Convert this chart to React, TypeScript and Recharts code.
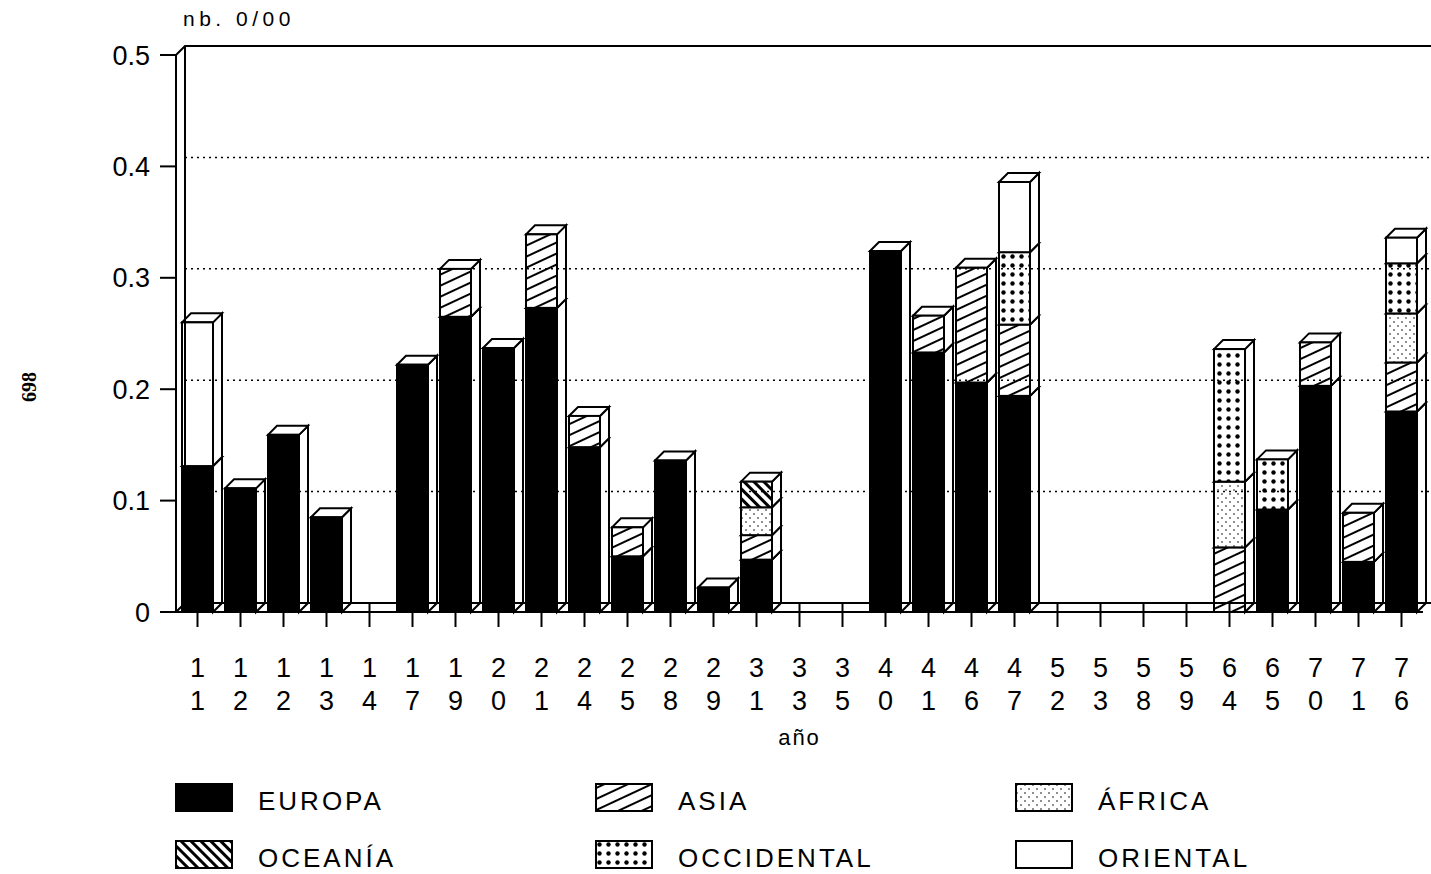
import { BarChart, Bar, XAxis, YAxis, CartesianGrid, ReferenceLine } from "recharts"

const labels = ["11", "12", "12", "13", "14", "17", "19", "20", "21", "24", "25", "28", "29", "31", "33", "35", "40", "41", "46", "47", "52", "53", "58", "59", "64", "65", "70", "71", "76"]

const europa = [0.131, 0.111, 0.159, 0.085, 0, 0.222, 0.265, 0.237, 0.273, 0.148, 0.05, 0.136, 0.022, 0.047, 0, 0, 0.324, 0.233, 0.206, 0.194, 0, 0, 0, 0, 0, 0.092, 0.203, 0.045, 0.18]
const asia = [0, 0, 0, 0, 0, 0, 0.043, 0, 0.066, 0.028, 0.026, 0, 0, 0.022, 0, 0, 0, 0.033, 0.103, 0.064, 0, 0, 0, 0, 0.058, 0, 0.039, 0.044, 0.044]
const africa = [0, 0, 0, 0, 0, 0, 0, 0, 0, 0, 0, 0, 0, 0.025, 0, 0, 0, 0, 0, 0, 0, 0, 0, 0, 0.059, 0, 0, 0, 0.044]
const oceania = [0, 0, 0, 0, 0, 0, 0, 0, 0, 0, 0, 0, 0, 0.023, 0, 0, 0, 0, 0, 0, 0, 0, 0, 0, 0, 0, 0, 0, 0]
const occidental = [0, 0, 0, 0, 0, 0, 0, 0, 0, 0, 0, 0, 0, 0, 0, 0, 0, 0, 0, 0.065, 0, 0, 0, 0, 0.119, 0.045, 0, 0, 0.045]
const oriental = [0.129, 0, 0, 0, 0, 0, 0, 0, 0, 0, 0, 0, 0, 0, 0, 0, 0, 0, 0, 0.063, 0, 0, 0, 0, 0, 0, 0, 0, 0.023]

const yTicks = [0, 0.1, 0.2, 0.3, 0.4, 0.5]
const gridTicks = [0.1, 0.2, 0.3, 0.4]

const series = [
    { key: "europa", name: "EUROPA", fill: "#000" },
    { key: "asia", name: "ASIA", fill: "url(#pat-asia)" },
    { key: "africa", name: "ÁFRICA", fill: "url(#pat-africa)" },
    { key: "oceania", name: "OCEANÍA", fill: "url(#pat-oceania)" },
    { key: "occidental", name: "OCCIDENTAL", fill: "url(#pat-occ)" },
    { key: "oriental", name: "ORIENTAL", fill: "#fff" },
]

const data = labels.map((label, i) => ({
    label,
    europa: europa[i],
    asia: asia[i],
    africa: africa[i],
    oceania: oceania[i],
    occidental: occidental[i],
    oriental: oriental[i],
}))

const FONT = "'Liberation Sans', Arial, sans-serif"
const D = 9 // depth of the 3d effect
const PLOT_H = 557

// back-wall grid: same ticks, pushed D px up and right
function BackGrid({ y1, x1 }: any) {
    return (
        <line
            x1={x1 + D}
            y1={y1 - D}
            x2={1432}
            y2={y1 - D}
            stroke="#000"
            strokeWidth={1.5}
            strokeDasharray="2 4"
        />
    )
}

function Bar3D(props: any) {
    const { x, y, width, height, fill } = props
    if (!height || height <= 0.5) return null
    const r = x + width
    return (
        <g>
            <polygon
                points={`${r},${y} ${r + D},${y - D} ${r + D},${y + height - D} ${r},${y + height}`}
                fill="#fff"
                stroke="#000"
                strokeWidth={2}
            />
            <polygon
                points={`${x},${y} ${x + D},${y - D} ${r + D},${y - D} ${r},${y}`}
                fill="#fff"
                stroke="#000"
                strokeWidth={2}
            />
            <rect x={x} y={y} width={width} height={height} fill={fill} stroke="#000" strokeWidth={2} />
        </g>
    )
}

function XTick({ x, y, payload }: any) {
    const [a, b] = String(payload.value).split("")
    return (
        <g>
            <line x1={x} y1={y - D} x2={x} y2={y + 15} stroke="#000" strokeWidth={2} />
            <text x={x} y={y + 65} textAnchor="middle" fontSize={27} fontFamily={FONT} fill="#000">
                {a}
            </text>
            <text x={x} y={y + 98} textAnchor="middle" fontSize={27} fontFamily={FONT} fill="#000">
                {b}
            </text>
        </g>
    )
}

function TopFrame({ x1, y1 }: any) {
    return (
        <g fill="none" stroke="#000" strokeWidth={2}>
            <polyline points={`${x1},${y1} ${x1 + D},${y1 - D} 1432,${y1 - D}`} />
            <line x1={x1 + D} y1={y1 - D} x2={x1 + D} y2={y1 - D + PLOT_H} />
        </g>
    )
}

function Floor({ x1, y1, x2 }: any) {
    return (
        <g fill="none" stroke="#000" strokeWidth={2}>
            <polyline points={`${x1},${y1} ${x1 + D},${y1 - D} ${x2 + D},${y1 - D}`} />
        </g>
    )
}

function Patterns() {
    return (
        <svg width={0} height={0} style={{ position: "absolute" }}>
            <defs>
                <pattern id="pat-asia" width={10} height={10} patternUnits="userSpaceOnUse" patternTransform="rotate(-25)">
                    <rect width={10} height={10} fill="#fff" />
                    <line x1={0} y1={5} x2={10} y2={5} stroke="#000" strokeWidth={2} />
                </pattern>
                <pattern id="pat-oceania" width={7} height={7} patternUnits="userSpaceOnUse" patternTransform="rotate(45)">
                    <rect width={7} height={7} fill="#fff" />
                    <line x1={0} y1={3.5} x2={7} y2={3.5} stroke="#000" strokeWidth={3} />
                </pattern>
                <pattern id="pat-africa" width={8} height={8} patternUnits="userSpaceOnUse">
                    <rect width={8} height={8} fill="#fff" />
                    <circle cx={2} cy={2} r={0.8} fill="#000" />
                    <circle cx={6} cy={6} r={0.8} fill="#000" />
                </pattern>
                <pattern id="pat-occ" width={9} height={9} patternUnits="userSpaceOnUse">
                    <rect width={9} height={9} fill="#fff" />
                    <circle cx={4.5} cy={4.5} r={2.2} fill="#000" />
                </pattern>
            </defs>
        </svg>
    )
}

const legendPos = [
    { left: 175, top: 783 },
    { left: 595, top: 783 },
    { left: 1015, top: 783 },
    { left: 175, top: 840 },
    { left: 595, top: 840 },
    { left: 1015, top: 840 },
]

export default function App() {
    return (
        <div style={{ position: "absolute", left: 0, top: 0, width: 1431, height: 874, background: "#fff", fontFamily: FONT, overflow: "hidden" }}>
            <Patterns />
            <div
                style={{
                    position: "absolute",
                    left: 14,
                    top: 377,
                    fontSize: 20,
                    lineHeight: "20px",
                    fontFamily: "'Liberation Serif', serif",
                    fontWeight: "bold",
                    transform: "rotate(-90deg)",
                }}
            >
                698
            </div>
            <div style={{ position: "absolute", left: 183, top: 7, fontSize: 21, letterSpacing: 4.5 }}>nb. 0/00</div>

            <BarChart
                width={1431}
                height={760}
                data={data}
                margin={{ top: 55, right: 8, left: 0, bottom: 0 }}
                barSize={31}
            >
                <CartesianGrid horizontal={false} vertical={false} />
                <YAxis
                    domain={[0, 0.5]}
                    ticks={yTicks}
                    width={176}
                    tickSize={16}
                    tickMargin={10}
                    axisLine={{ stroke: "#000", strokeWidth: 2 }}
                    tickLine={{ stroke: "#000", strokeWidth: 2 }}
                    tick={{ fill: "#000", fontSize: 27, fontFamily: FONT }}
                />
                <XAxis
                    dataKey="label"
                    height={148}
                    tickSize={0}
                    tickMargin={0}
                    tickLine={false}
                    interval={0}
                    axisLine={{ stroke: "#000", strokeWidth: 2 }}
                    tick={<XTick />}
                    label={{ value: "año", position: "insideBottom", offset: 15, fontSize: 22, fill: "#000", fontFamily: FONT, letterSpacing: 2 }}
                />
                {gridTicks.map((t) => (
                    <ReferenceLine key={t} y={t} shape={<BackGrid />} />
                ))}
                <ReferenceLine y={0.5} shape={<TopFrame />} />
                <ReferenceLine y={0} shape={<Floor />} />
                {series.map((s) => (
                    <Bar
                        key={s.key}
                        dataKey={s.key}
                        name={s.name}
                        stackId="a"
                        fill={s.fill}
                        shape={<Bar3D />}
                        isAnimationActive={false}
                    />
                ))}
            </BarChart>

            {series.map((s, i) => (
                <div key={s.key}>
                    <svg width={58} height={29} style={{ position: "absolute", left: legendPos[i].left, top: legendPos[i].top }}>
                        <rect x={1} y={1} width={56} height={27} fill={s.fill} stroke="#000" strokeWidth={2} />
                    </svg>
                    <span
                        style={{
                            position: "absolute",
                            left: legendPos[i].left + 83,
                            top: legendPos[i].top + 3,
                            fontSize: 26,
                            letterSpacing: 3,
                            lineHeight: "30px",
                            whiteSpace: "nowrap",
                        }}
                    >
                        {s.name}
                    </span>
                </div>
            ))}
        </div>
    )
}
